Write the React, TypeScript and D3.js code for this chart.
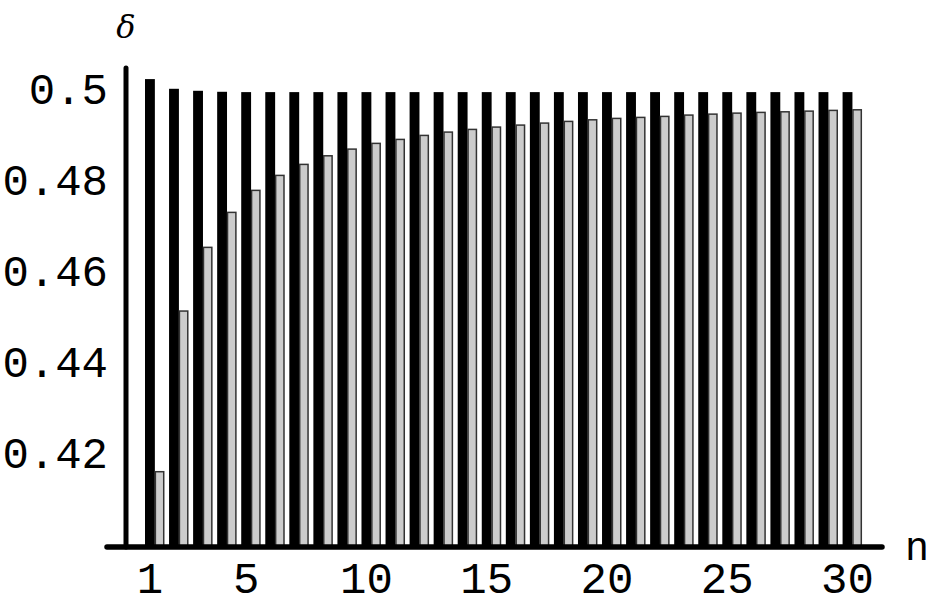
import * as React from "react";
import * as d3 from "d3";

const N_VALUES = d3.range(1, 31);

const BLACK_VALUES = [
  0.50286, 0.50073, 0.50029, 0.50007, 0.5, 0.5, 0.5, 0.5, 0.5, 0.5,
  0.5, 0.5, 0.5, 0.5, 0.5, 0.5, 0.5, 0.5, 0.5, 0.5,
  0.5, 0.5, 0.5, 0.5, 0.5, 0.5, 0.5, 0.5, 0.5, 0.5,
];

const GRAY_VALUES = [
  0.41655, 0.45187, 0.46587, 0.47356, 0.4784, 0.48169, 0.48411, 0.486, 0.48747, 0.48873,
  0.4896, 0.49048, 0.49121, 0.4918, 0.49231, 0.49275, 0.49319, 0.49356, 0.49391, 0.49422,
  0.49444, 0.49466, 0.49495, 0.49516, 0.49538, 0.49554, 0.49567, 0.49582, 0.49598, 0.49611,
];

const Y_TICKS = [0.42, 0.44, 0.46, 0.48, 0.5];
const X_TICKS = [1, 5, 10, 15, 20, 25, 30];

const WIDTH = 931;
const HEIGHT = 608;

export default function App() {
  const x = d3.scaleBand<number>().domain(N_VALUES).range([145, 862.3]).paddingInner(0.18).paddingOuter(0);
  const sub = d3.scaleBand<string>().domain(["black", "gray"]).range([0, x.bandwidth()]).padding(0);
  const y = d3.scaleLinear().domain([0.4, 0.5053]).range([547, 68]);

  const [y0, yTop] = y.range();
  const monoFont = "'Liberation Mono', 'Courier New', monospace";

  return (
    <svg
      width={WIDTH}
      height={HEIGHT}
      style={{ position: "fixed", left: 0, top: 0, background: "#fff" }}
    >
      {/* bars */}
      {N_VALUES.map((n, i) => {
        const gx = x(n) ?? 0;
        return (
          <g key={n} transform={`translate(${gx},0)`}>
            <rect
              x={sub("black")}
              y={y(BLACK_VALUES[i])}
              width={sub.bandwidth()}
              height={y0 - y(BLACK_VALUES[i])}
              fill="#000"
            />
            <rect
              x={(sub("gray") ?? 0) + 0.5}
              y={y(GRAY_VALUES[i])}
              width={sub.bandwidth() - 1.5}
              height={y0 - y(GRAY_VALUES[i])}
              fill="#cccccc"
              stroke="#333"
              strokeWidth={1.5}
            />
          </g>
        );
      })}

      {/* axes */}
      <line x1={126} x2={126} y1={y0} y2={yTop} stroke="#000" strokeWidth={5} strokeLinecap="round" />
      <line x1={107} x2={882} y1={y0} y2={y0} stroke="#000" strokeWidth={5.5} strokeLinecap="round" />

      {Y_TICKS.map((t) => (
        <text
          key={t}
          x={108}
          y={y(t)}
          textAnchor="end"
          dominantBaseline="central"
          fontFamily={monoFont}
          fontSize={44}
          fill="#000"
        >
          {d3.format("")(t)}
        </text>
      ))}

      {X_TICKS.map((t) => (
        <text
          key={t}
          x={(x(t) ?? 0) + (sub("black") ?? 0) + sub.bandwidth() / 2}
          y={581}
          textAnchor="middle"
          dominantBaseline="central"
          fontFamily={monoFont}
          fontSize={44}
          fill="#000"
        >
          {t}
        </text>
      ))}

      <text x={917} y={560} textAnchor="middle" fontFamily={monoFont} fontSize={40} fill="#000">
        n
      </text>
      <text
        x={126}
        y={38}
        textAnchor="middle"
        fontFamily="'DejaVu Serif', serif"
        fontStyle="italic"
        fontSize={32}
        fill="#000"
      >
        δ
      </text>
    </svg>
  );
}
